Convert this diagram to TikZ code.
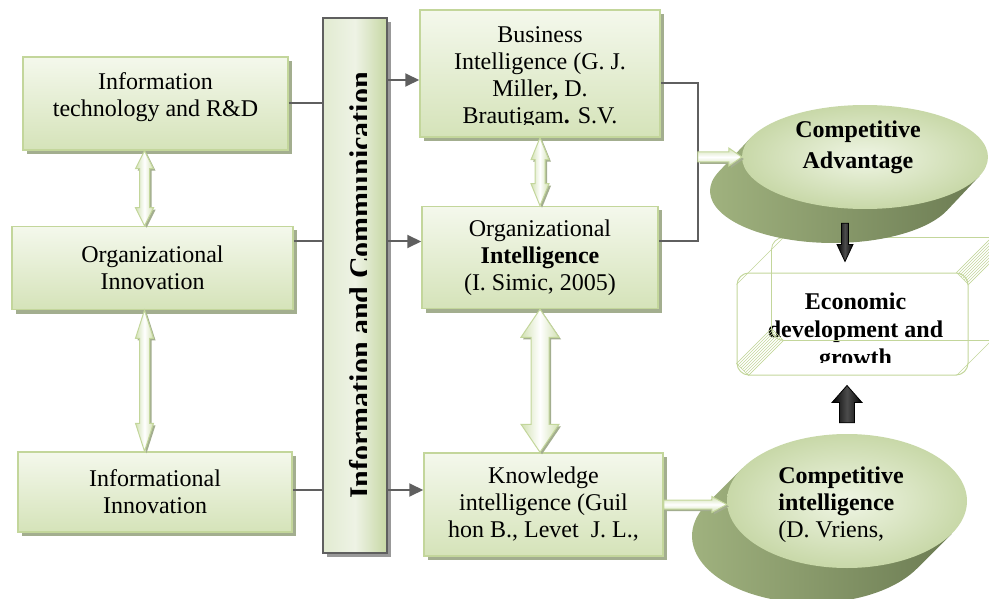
\documentclass[tikz,border=0pt]{standalone}
\usepackage{fontspec}
\setmainfont{Liberation Serif}
\usetikzlibrary{positioning,calc,arrows.meta,shapes.geometric,shadows,patterns}

\definecolor{boxline}{HTML}{C3D69B}
\definecolor{boxtop}{HTML}{F4F8EC}
\definecolor{boxbot}{HTML}{D5E3B9}
\definecolor{shade}{HTML}{A3AE8F}
\definecolor{linegray}{HTML}{5F5F5F}
\definecolor{barleft}{HTML}{E2EBD1}
\definecolor{barmid}{HTML}{EEF3E5}
\definecolor{barright}{HTML}{C6D7A4}
\definecolor{arrgreen}{HTML}{D2E1B3}
\definecolor{disctop}{HTML}{EFF5E4}
\definecolor{discedge}{HTML}{C8D8A8}
\definecolor{sidelight}{HTML}{A3B581}
\definecolor{sidedark}{HTML}{6C7C53}

% block arrows: [style]{from}{to}{half shaft}{half head}{head length}
\newcommand{\blockarrow}[6][]{%
  \path (#2) coordinate (ba-s) (#3) coordinate (ba-e);
  \path ($(ba-e)!#6!(ba-s)$) coordinate (ba-h);
  \path[#1] ($(ba-s)!#4!90:(ba-e)$) -- ($(ba-h)!#4!90:(ba-e)$) -- ($(ba-h)!#5!90:(ba-e)$)
    -- (ba-e) -- ($(ba-h)!#5!-90:(ba-e)$) -- ($(ba-h)!#4!-90:(ba-e)$) -- ($(ba-s)!#4!-90:(ba-e)$) -- cycle;}
\newcommand{\dblockarrow}[6][]{%
  \path (#2) coordinate (ba-s) (#3) coordinate (ba-e);
  \path ($(ba-s)!#6!(ba-e)$) coordinate (ba-a) ($(ba-e)!#6!(ba-s)$) coordinate (ba-b);
  \path[#1] (ba-s) -- ($(ba-a)!#5!90:(ba-e)$) -- ($(ba-a)!#4!90:(ba-e)$) -- ($(ba-b)!#4!90:(ba-e)$)
    -- ($(ba-b)!#5!90:(ba-e)$) -- (ba-e) -- ($(ba-b)!#5!-90:(ba-e)$) -- ($(ba-b)!#4!-90:(ba-e)$)
    -- ($(ba-a)!#4!-90:(ba-e)$) -- ($(ba-a)!#5!-90:(ba-e)$) -- cycle;}

\begin{document}
\begin{tikzpicture}[x=1pt, y=-1pt,
  every node/.style={font=\fontsize{24}{27}\selectfont},
  box/.style={draw=boxline, line width=1.5pt, top color=boxtop, bottom color=boxbot,
    drop shadow={shadow xshift=4pt, shadow yshift=-4pt, fill=shade, opacity=1}, align=center, inner sep=0pt},
  bar/.style={draw=linegray, line width=2pt, left color=barleft, right color=barright, middle color=barmid,
    drop shadow={shadow xshift=4pt, shadow yshift=-4pt, fill=black!40, opacity=1},
    path picture={\clip (path picture bounding box.north west) rectangle ([xshift=11pt]path picture bounding box.south);
      \node[rotate=90, anchor=base, font=\bfseries\fontsize{30}{32}\selectfont]
        at ([xshift=15pt]path picture bounding box.center) {Information and Communication};}},
  ecobox/.style={draw=boxline, line width=1pt, rounded corners=12pt,
    path picture={\clip (path picture bounding box.north west) rectangle ([yshift=13pt]path picture bounding box.south east);
      \node[align=center, font=\bfseries\fontsize{24}{28}\selectfont]
        at ([xshift=3pt, yshift=-8pt]path picture bounding box.center) {Economic\\development and\\growth};}},
  ecoline/.style={draw=boxline, line width=0.8pt},
  bevel/.style={draw=boxline, line width=0.6pt, pattern=north east lines, pattern color=boxline},
  disc/.style={ellipse, inner color=disctop, outer color=discedge},
  side/.style={left color=sidelight, right color=sidedark},
  cafont/.style={font=\bfseries\fontsize{24}{31}\selectfont, align=center},
  link/.style={draw=linegray, line width=2pt},
  greenv/.style={draw=boxline, line width=1pt, left color=arrgreen, right color=arrgreen, middle color=white,
    drop shadow={shadow xshift=2pt, shadow yshift=-2pt, fill=shade, opacity=1}},
  greenh/.style={draw=boxline, line width=1pt, top color=arrgreen, bottom color=arrgreen, middle color=white,
    drop shadow={shadow xshift=2pt, shadow yshift=-2pt, fill=shade, opacity=1}},
  blackv/.style={draw=black, line width=0.8pt, left color=black, right color=black, middle color=black!70}]

\useasboundingbox (0,0) rectangle (989,599);

% left column
\node[box, minimum width=265pt, minimum height=93pt,
  label={[align=center, yshift=6pt]center:Information\\technology and R\&D}] (itrd) at (155.5,103.5) {};
\node[box, minimum width=281pt, minimum height=83pt, below=75pt of itrd, xshift=-3pt] (orginn) {Organizational\\Innovation};
\node[box, minimum width=274pt, minimum height=80pt, below=141pt of orginn, xshift=2.5pt] (infinn) {Informational\\Innovation};

% vertical bar
\node[bar, minimum width=64pt, minimum height=535pt] (bar) at (355,285.5) {};

% middle column
\node[box, minimum width=240pt, minimum height=127pt,
  path picture={\clip ([yshift=12pt]path picture bounding box.south west) rectangle (path picture bounding box.north east);
    \node[align=center] at ([yshift=-4pt]path picture bounding box.center)
      {Business\\Intelligence (G. J.\\Miller\textbf{,} D.\\Brautigam\textbf{.} S.V.};}] (bi) at (540,73.5) {};
\node[box, minimum width=236pt, minimum height=102pt, below=68pt of bi] (oi) {Organizational\\\textbf{Intelligence}\\(I. Simic, 2005)};
\node[box, minimum width=239pt, minimum height=103pt, below=143pt of oi, xshift=3.5pt] (ki) {Knowledge\\intelligence (Guil\\hon B., Levet\ \ J. L.,};

% economic box
\node[ecobox, minimum width=231pt, minimum height=102pt] (eco) at (852.5,324) {};
\draw[ecoline, rounded corners=12pt] ([shift={(35,-35)}]eco.north west) rectangle ([shift={(35,-35)}]eco.south east);
\path[bevel] ([shift={(0,12)}]eco.north west) -- ([shift={(12,0)}]eco.north west) -- ([shift={(47,-35)}]eco.north west) -- ([shift={(35,-23)}]eco.north west) -- cycle;
\path[bevel] ([shift={(-12,0)}]eco.north east) -- ([shift={(0,12)}]eco.north east) -- ([shift={(35,-23)}]eco.north east) -- ([shift={(23,-35)}]eco.north east) -- cycle;
\path[bevel] ([shift={(0,-12)}]eco.south west) -- ([shift={(12,0)}]eco.south west) -- ([shift={(47,-35)}]eco.south west) -- ([shift={(35,-47)}]eco.south west) -- cycle;
\path[bevel] ([shift={(-12,0)}]eco.south east) -- ([shift={(0,-12)}]eco.south east) -- ([shift={(35,-47)}]eco.south east) -- ([shift={(23,-35)}]eco.south east) -- cycle;

% discs
\coordinate (cac) at (865,157);
\path[side] ($(cac)+(114.3,19.2)$) -- ++(-32,34) arc[start angle=21.7, end angle=201.7, x radius=123, y radius=52] -- ($(cac)+(-114.3,-19.2)$) -- cycle;
\node[disc, minimum width=246pt, minimum height=104pt,
  label={[cafont, xshift=-7pt, yshift=10pt]center:Competitive\\Advantage}] (ca) at (cac) {};
\coordinate (cic) at (847,501);
\path[side] ($(cic)+(104.8,32.7)$) -- ++(-35,35) arc[start angle=29.2, end angle=209.2, x radius=120, y radius=67] -- ($(cic)+(-104.8,-32.7)$) -- cycle;
\node[disc, minimum width=240pt, minimum height=134pt,
  label={[align=left, xshift=-6pt, yshift=-4pt]center:\textbf{Competitive}\\\textbf{intelligence}\\(D. Vriens,}] (ci) at (cic) {};

% gray connectors
\coordinate (biin) at ([yshift=-6.5pt]bi.west);
\coordinate (oiin) at ([yshift=16pt]oi.west);
\coordinate (kiin) at ([yshift=14.5pt]ki.west);
\draw[link] (itrd.east) -- (itrd.east -| bar.west);
\draw[link] (orginn.east |- oiin) -- (bar.west |- oiin);
\draw[link] (infinn.east |- kiin) -- (bar.west |- kiin);
\draw[link, -{Triangle[length=14pt, width=13pt]}] (bar.east |- biin) -- (biin);
\draw[link, -{Triangle[length=14pt, width=13pt]}] (bar.east |- oiin) -- (oiin);
\draw[link, -{Triangle[length=14pt, width=13pt]}] (bar.east |- kiin) -- (kiin);
\coordinate (biout) at ([yshift=-9.5pt]bi.east);
\coordinate (oiout) at ([yshift=16pt]oi.east);
\draw[link] (biout) -- ++(37,0) coordinate (brk) |- (oiout);

% green block arrows
\coordinate (lft1) at ([xshift=-11pt]itrd.south);
\dblockarrow[greenv]{lft1}{lft1 |- orginn.north}{5pt}{9pt}{18pt}
\coordinate (lft2) at ([xshift=-8pt]orginn.south);
\dblockarrow[greenv]{lft2}{lft2 |- infinn.north}{5pt}{9pt}{28pt}
\dblockarrow[greenv]{bi.south}{oi.north}{5pt}{9pt}{22pt}
\dblockarrow[greenv]{oi.south}{oi.south |- ki.north}{9pt}{19pt}{28pt}
\blockarrow[greenh]{brk |- ca.west}{ca.west}{5pt}{9pt}{13pt}
\blockarrow[greenh]{ki.east}{ki.east -| ci.west}{4.5pt}{8pt}{15pt}

% black block arrows
\coordinate (dtop) at ([xshift=-20pt, yshift=-14pt]ca.south);
\coordinate (dend) at ([yshift=11pt]eco.north);
\blockarrow[blackv]{dtop}{dtop |- dend}{3.5pt}{8pt}{17pt}
\coordinate (ubot) at ([yshift=11pt]ci.north);
\coordinate (uend) at ([yshift=-10pt]eco.south);
\blockarrow[blackv]{ubot}{ubot |- uend}{7.5pt}{15pt}{17pt}
\end{tikzpicture}
\end{document}
